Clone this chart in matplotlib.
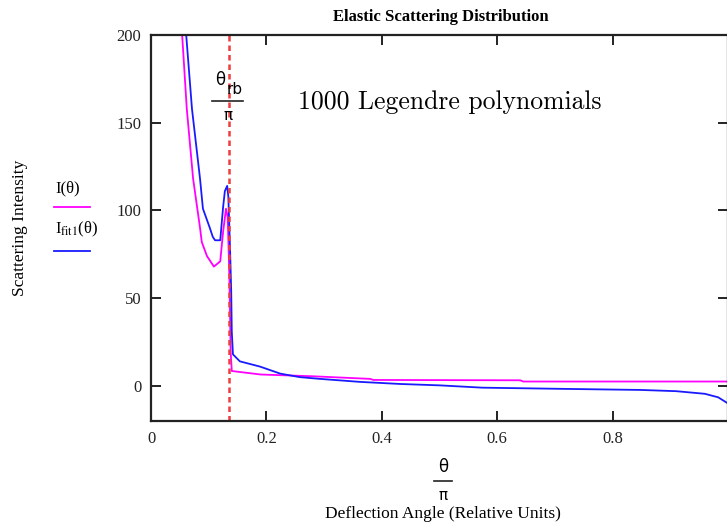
import matplotlib
matplotlib.use('Agg')
import matplotlib.pyplot as plt
from matplotlib.lines import Line2D

plt.rcParams['font.family'] = ['Liberation Serif', 'DejaVu Serif']
plt.rcParams['mathtext.fontset'] = 'stix'

# I(theta) - exact distribution
theta_I = [0.045, 0.054, 0.062, 0.073, 0.085, 0.088, 0.097, 0.109, 0.120, 0.125,
           0.130, 0.133, 0.136, 0.138, 0.140, 0.19, 0.28, 0.38, 0.385, 0.64, 0.645, 1.0]
I_vals = [260, 200, 158, 118, 90, 82, 74, 68, 71, 88,
          101, 96, 60, 20, 8.5, 6.5, 5.5, 4.0, 3.4, 3.2, 2.5, 2.5]

# I_fit1(theta) - 1000 term Legendre fit
theta_fit = [0.052, 0.061, 0.071, 0.085, 0.090, 0.102, 0.107, 0.111, 0.120, 0.125,
             0.128, 0.132, 0.134, 0.137, 0.139, 0.140, 0.142, 0.154, 0.189, 0.224,
             0.258, 0.293, 0.362, 0.432, 0.501, 0.574, 0.717, 0.849, 0.910, 0.960,
             0.983, 1.0]
fit_vals = [260, 200, 158, 118, 101, 90, 85, 83, 83, 102,
            111, 114, 108, 78, 54, 31, 18, 14, 11, 7,
            5, 4, 2.3, 1.1, 0.3, -1.0, -1.7, -2.3, -3.0, -4.5,
            -6.5, -10]

theta_rb = 0.135
x_ticks = [0, 0.2, 0.4, 0.6, 0.8]
x_ticklabels = ['0', '0.2', '0.4', '0.6', '0.8']
y_ticks = [0, 50, 100, 150, 200]

W, H = 727, 527


def fx(px):
    return px / W


def fy(py):
    return 1 - py / H


fig = plt.figure(figsize=(7.27, 5.27), dpi=100)
ax = fig.add_axes([fx(151), fy(421), 577 / W, 386 / H])

ax.plot(theta_I, I_vals, color='#ff00ff', lw=1.3)
ax.plot(theta_fit, fit_vals, color='#1a1aff', lw=1.3)
ax.axvline(theta_rb, color='#f03c3c', lw=1.8, ls=(0, (2.2, 1.6)))

ax.set_xlim(0, 1.0)
ax.set_ylim(-20, 200)
ax.set_xticks(x_ticks)
ax.set_xticklabels(x_ticklabels)
ax.set_yticks(y_ticks)
ax.tick_params(direction='in', length=7.5, width=1.4, labelsize=12, pad=7,
               top=True, right=True, colors='#222222')
for s in ax.spines.values():
    s.set_linewidth(1.6)
    s.set_color('#222222')

fig.text(fx(441), fy(17), 'Elastic Scattering Distribution',
         ha='center', va='center', fontsize=12, fontweight='bold')
fig.text(fx(450), fy(102), '1000 Legendre polynomials', family='cmr10',
         ha='center', va='center', fontsize=18.5)

# theta_rb / pi marker label, stacked by hand
sans = ['DejaVu Sans']
fig.text(fx(220), fy(80), 'θ', family=sans, ha='center', va='center', fontsize=12)
fig.text(fx(227), fy(90), 'rb', family=sans, ha='left', va='center', fontsize=11)
fig.add_artist(Line2D([fx(212), fx(243)], [fy(101), fy(101)], color='#222222', lw=1.2))
fig.text(fx(228), fy(116), 'π', family=sans, ha='center', va='center', fontsize=11)

# x label theta / pi
fig.text(fx(443), fy(467), 'θ', family=sans, ha='center', va='center', fontsize=12)
fig.add_artist(Line2D([fx(434), fx(452)], [fy(481), fy(481)], color='#222222', lw=1.2))
fig.text(fx(443), fy(496), 'π', family=sans, ha='center', va='center', fontsize=11)
fig.text(fx(443), fy(514), 'Deflection Angle (Relative Units)',
         ha='center', va='center', fontsize=12.5)
fig.text(fx(20), fy(228), 'Scattering Intensity', rotation=90,
         ha='center', va='center', fontsize=12.5)

# legend drawn by hand like the original
fig.text(fx(55), fy(188), 'I(θ)', ha='left', va='center', fontsize=12)
fig.add_artist(Line2D([fx(54), fx(90)], [fy(207), fy(207)], color='#ff00ff', lw=1.3))
fig.text(fx(55), fy(229), r'I$_{\mathrm{fit1}}$(θ)', ha='left', va='center', fontsize=12)
fig.add_artist(Line2D([fx(54), fx(90)], [fy(251), fy(251)], color='#1a1aff', lw=1.3))

fig.savefig('out.png', dpi=100)
